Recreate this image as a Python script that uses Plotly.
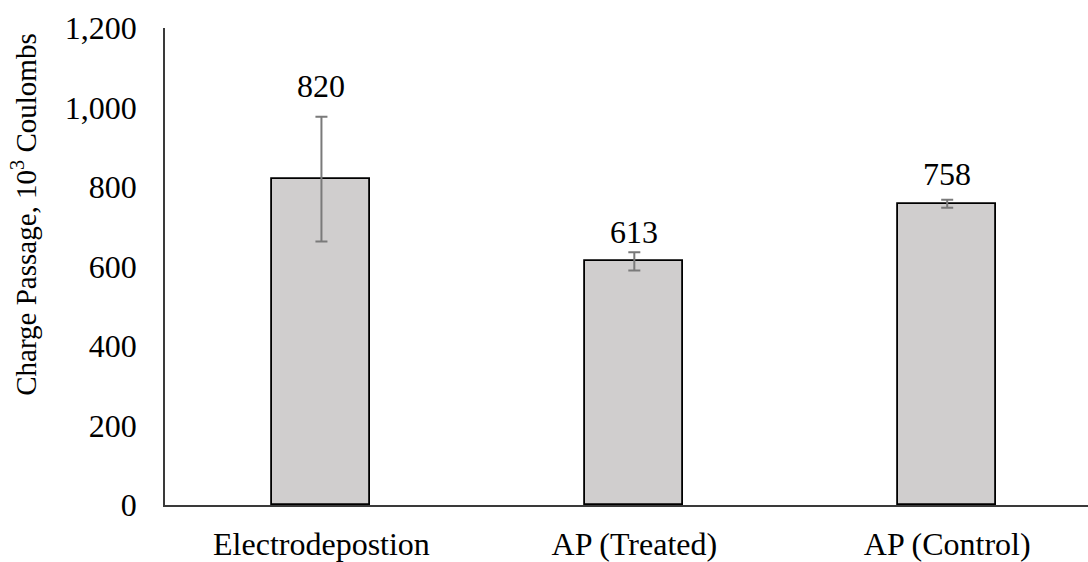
import plotly.graph_objects as go

# Mean charge passage per treatment (10^3 Coulombs) with standard deviations
categories = ["Electrodepostion", "AP (Treated)", "AP (Control)"]
charge = [820, 613, 758]
charge_sd = [157, 23, 10]
y_ticks = [0, 200, 400, 600, 800, 1000, 1200]

FONT = "Liberation Serif, Times New Roman, serif"

fig = go.Figure()
fig.add_trace(go.Bar(
    x=categories,
    y=charge,
    width=0.313,
    marker=dict(color="#d0cece", line=dict(color="#000000", width=1.8)),
    error_y=dict(type="data", array=charge_sd, visible=True,
                 color="#7a7a7a", thickness=2, width=6),
    showlegend=False,
    hoverinfo="skip",
))

# value labels sitting just above each error bar
label_lift = [31, 20, 26]
for cat, v, sd, lift in zip(categories, charge, charge_sd, label_lift):
    fig.add_annotation(
        x=cat, y=v + sd, xref="x", yref="y",
        text=f"{v}", showarrow=False,
        yanchor="middle", yshift=lift,
        font=dict(family=FONT, size=32, color="#000000"),
    )

# rotated y-axis title
fig.add_annotation(
    x=-0.153, y=0.608, xref="paper", yref="paper",
    text="Charge Passage, 10<sup>3</sup> Coulombs",
    textangle=-90, showarrow=False,
    xanchor="center", yanchor="middle",
    font=dict(family=FONT, size=29, color="#000000"),
)

fig.update_layout(
    width=1088, height=562,
    margin=dict(l=164.5, r=0, t=28, b=57),
    paper_bgcolor="#ffffff",
    plot_bgcolor="#ffffff",
    font=dict(family=FONT, size=32, color="#000000"),
    bargap=0,
)
fig.update_xaxes(
    range=[-0.5, 2.45],
    showline=True, linecolor="#3a3a3a", linewidth=1.8,
    showgrid=False, zeroline=False,
    ticks="", ticklabelstandoff=10,
    tickfont=dict(family=FONT, size=32, color="#000000"),
)
fig.update_yaxes(
    range=[0, 1200],
    tickvals=y_ticks,
    ticktext=[f"{t:,}" for t in y_ticks],
    showline=True, linecolor="#3a3a3a", linewidth=1.8,
    showgrid=False, zeroline=False,
    ticks="", ticklabelstandoff=20,
    tickfont=dict(family=FONT, size=32, color="#000000"),
)

fig.write_html("out.html")
